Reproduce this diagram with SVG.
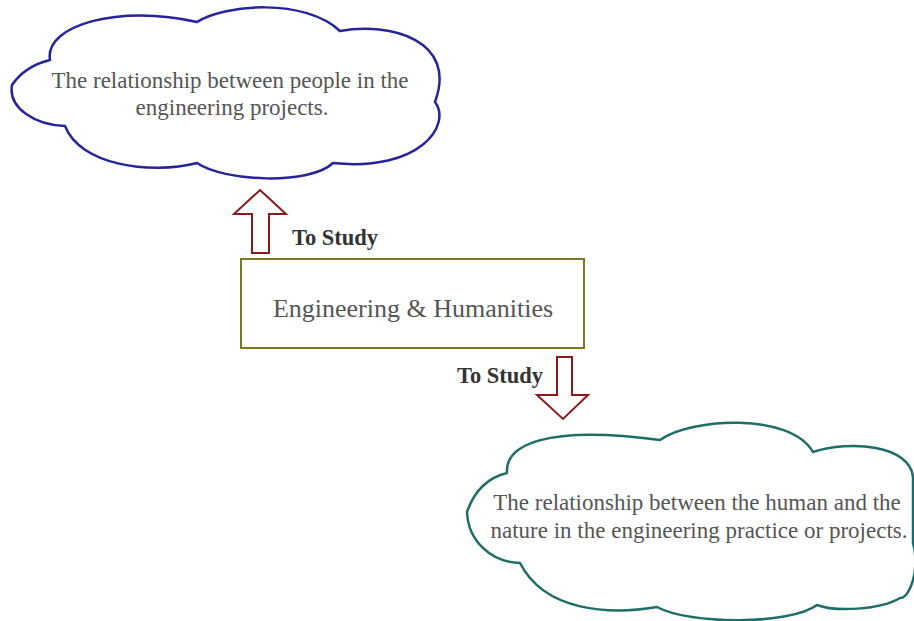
<svg xmlns="http://www.w3.org/2000/svg" width="914" height="621" viewBox="0 0 914 621">
<style>
.cloud{fill:#fff;stroke-width:2.5;stroke-linejoin:round}
.c1{stroke:#25259a}
.c2{stroke:#1e6e68}
.t{font-family:"Liberation Serif","Times New Roman",serif;fill:#555;text-anchor:middle}
.ct{font-size:23px}
.bt{font-size:26px}
.lbl{font-family:"Liberation Serif","Times New Roman",serif;font-weight:bold;font-size:22.5px;fill:#333}
.arr{fill:#fff;stroke:#8b1a1a;stroke-width:2;stroke-linejoin:miter}
</style>
<rect width="914" height="621" fill="#fff"/>
<g id="cloud-people">
<path class="cloud c1" d="M12,85 Q25,66 50,60 C44,25 120,4 197,22 C225,4 305,-2 340,31 C390,22 458,40 435,102 C452,125 420,172 333,163 C310,185 225,182 197,163 C150,175 80,165 65,126 C35,125 8,108 12,85 Z"/>
<text class="t ct" x="230" y="88">The relationship between people in the</text>
<text class="t ct" x="232" y="115">engineering projects.</text>
</g>
<g id="box-eh">
<rect x="241" y="259" width="343" height="89" fill="#fff" stroke="#7a7a1e" stroke-width="2"/>
<text class="t bt" x="413" y="317">Engineering &amp; Humanities</text>
</g>
<g id="cloud-nature">
<path class="cloud c2" d="M467,512 Q478,480 507,473 C505,445 545,425 660,440 C690,418 790,412 813,452 C850,440 910,445 913,477 L913,543 C920,570 910,598 900,598 C880,610 835,612 817,605 C790,625 690,625 657,607 C610,615 545,612 520,563 C490,562 468,540 467,512 Z"/>
<text class="t ct" x="697" y="510">The relationship between the human and the</text>
<text class="t ct" x="699" y="538">nature in the engineering practice or projects.</text>
</g>
<g id="connectors">
<polygon class="arr" points="260,190 286,214 269,214 269,253 252,253 252,214 234,214"/>
<text class="lbl" x="292" y="245">To Study</text>
<polygon class="arr" points="557,357 572,357 572,395 588,395 563,419 537,395 557,395"/>
<text class="lbl" x="457" y="383">To Study</text>
</g>
</svg>
